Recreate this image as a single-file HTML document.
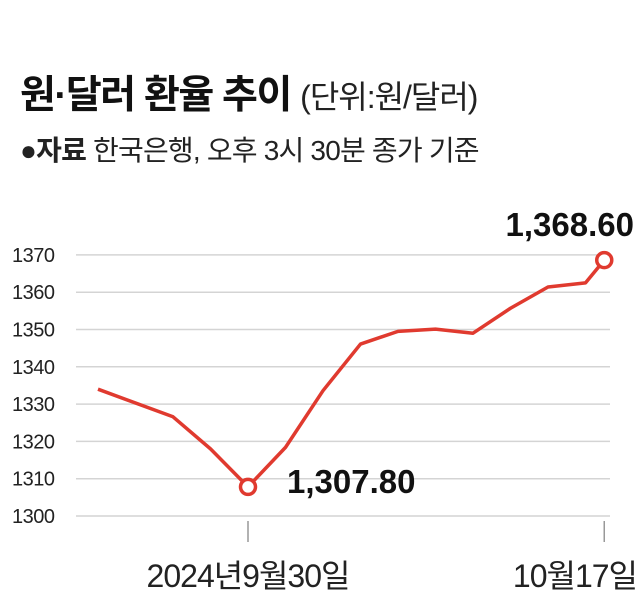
<!DOCTYPE html>
<html><head><meta charset="utf-8"><style>
html,body{margin:0;padding:0;background:#fff}
body{width:640px;height:610px;position:relative;overflow:hidden;font-family:"Liberation Sans","Noto Sans CJK KR",sans-serif;color:#111}
.t{position:absolute;white-space:nowrap}
</style></head><body>
<div class="t" style="left:20px;top:64px;font-size:39px;font-weight:bold;letter-spacing:-1.5px">원·달러 환율 추이 <span style="font-size:32px;font-weight:normal;color:#222;letter-spacing:-1px">(단위:원/달러)</span></div>
<div class="t" style="left:20px;top:129px;font-size:28px;color:#222;letter-spacing:-0.8px"><b>●자료</b> 한국은행, 오후 3시 30분 종가 기준</div>
<svg id="chart" width="640" height="610" style="position:absolute;left:0;top:0"></svg>
<script>
const dateLabels=["9/24","9/26","9/27","9/30","10/2","10/4","10/7","10/8","10/10","10/11","10/14","10/15","10/16","10/17"];
const dayIndex=[0,2,3,4,5,6,7,8,9,10,11,12,13,13.5];
const rates=[1334.0,1326.6,1318.0,1307.8,1318.4,1333.6,1346.1,1349.5,1350.1,1349.0,1355.7,1361.4,1362.5,1368.6];
const yTicks=[1300,1310,1320,1330,1340,1350,1360,1370];
const xTickLabels=[{i:4,text:"2024년9월30일"},{i:13.5,text:"10월17일"}];
const annotations=[{k:3,text:"1,307.80"},{k:13,text:"1,368.60"}];
const NS="http://www.w3.org/2000/svg";
const svg=document.getElementById('chart');
const X=i=>98+i*37.5;
const Y=v=>516-(v-1300)*3.73;
function mk(t,a){const e=document.createElementNS(NS,t);for(const k in a)e.setAttribute(k,a[k]);svg.appendChild(e);return e;}
yTicks.forEach(v=>{
 const l=mk('line',{x1:76,x2:610,y1:Y(v),y2:Y(v),stroke:'#d4d4d4','stroke-width':1.5});
 
 
 const t=mk('text',{x:12,y:Y(v)+7,'font-size':20,fill:'#222','font-family':'Liberation Sans, sans-serif','letter-spacing':'-0.5'});
 t.textContent=v;
 
 
});
xTickLabels.forEach(o=>{
 const l=mk('line',{x1:X(o.i),x2:X(o.i),y1:521,y2:542,stroke:'#999','stroke-width':1.5});
 
 
 const t=mk('text',{x:X(o.i),y:587,'font-size':32,fill:'#222','text-anchor':o.i>13?'end':'middle','font-family':'Liberation Sans, Noto Sans CJK KR, sans-serif','letter-spacing':'-1'});
 if(o.i>13)t.setAttribute('x',637);
 t.textContent=o.text;
 
 
});
const pts=rates.map((v,k)=>X(dayIndex[k])+','+Y(v)).join(' ');
const pl=mk('polyline',{points:pts,fill:'none',stroke:'#e03a2f','stroke-width':3.5,'stroke-linejoin':'round'});


annotations.forEach(a=>{
 const c=mk('circle',{cx:X(dayIndex[a.k]),cy:Y(rates[a.k]),r:7.5,fill:'#fff',stroke:'#e03a2f','stroke-width':3.5});
 
 
 const last=a.k===rates.length-1;
 const t=mk('text',{x:last?634:287,y:last?Y(rates[a.k])-24:Y(rates[a.k])+6,'font-size':33,'font-weight':'bold',fill:'#111','text-anchor':last?'end':'start','font-family':'Liberation Sans, sans-serif'});
 t.textContent=a.text;
 
 
});
</script>
</body></html>
